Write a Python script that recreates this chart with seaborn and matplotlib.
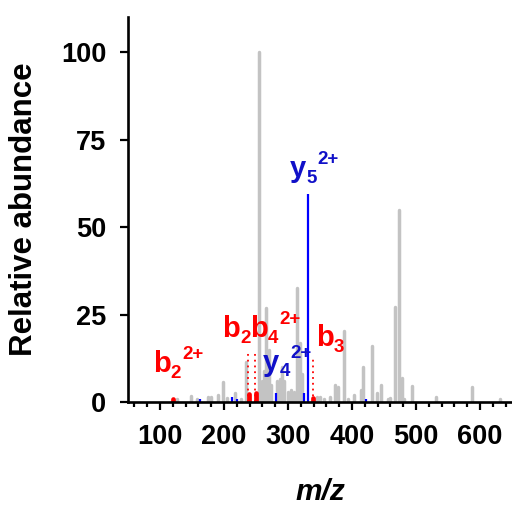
import matplotlib
matplotlib.use("Agg")
import matplotlib.pyplot as plt
from matplotlib.ticker import MultipleLocator
import seaborn as sns

# ---- data ----
gray_mz = [127, 148, 158, 175, 180, 191, 198.5, 204, 217.7, 227, 235, 255,
           259.5, 262, 266, 270, 273, 283, 287, 291, 294, 300, 305, 309,
           314, 319, 322, 345, 350, 356, 365, 373, 378.6, 387.5, 393, 403,
           413.5, 417.7, 431, 438.5, 445, 456, 460, 467, 474, 477.6, 481,
           494, 531, 587, 632]
gray_int = [1.0, 1.7, 0.8, 1.5, 1.5, 2.0, 5.6, 1.2, 2.5, 1.0, 11.5, 100,
            6, 9, 27, 15, 5, 6, 6.5, 10, 6, 3, 3.5, 3,
            32.6, 17, 8, 1.5, 1.5, 1.0, 1.5, 5, 4.4, 20.4, 1.0, 2,
            3.5, 10, 16, 2.5, 5, 1.0, 1.2, 27.2, 54.9, 7, 1.0,
            4.7, 1.5, 4.3, 0.8]

blue_mz = [162.5, 212.5, 220.8, 281, 325, 331, 422]
blue_int = [0.8, 1.5, 1.0, 2.5, 2.7, 59.4, 0.8]

red_mz = [120.3, 239.5, 249.5, 338.5]
red_int = [1.0, 2.2, 2.5, 1.3]

# dotted guide lines: (m/z, top)
guide_mz = [238, 249, 338.5]
guide_top = [14.4, 14.4, 13.0]

# ion labels: main letter, subscript, superscript, colour, anchor m/z, anchor intensity
ion_main = ["b", "b", "b", "b", "y", "y"]
ion_sub = ["2", "2", "4", "3", "4", "5"]
ion_sup = ["2+", "", "2+", "", "2+", "2+"]
ion_col = ["r", "r", "r", "r", "b", "b"]
ion_x = [89, 197, 240.6, 343.75, 261, 303]
ion_y = [8.6, 18.6, 18.6, 16.0, 8.9, 64.3]

xticks = [100, 200, 300, 400, 500, 600]
yticks = [0, 25, 50, 75, 100]

# ---- style ----
sns.set_theme(style="ticks")
plt.rcParams["font.family"] = ["Liberation Sans", "DejaVu Sans"]
plt.rcParams["text.color"] = "black"
plt.rcParams["axes.labelcolor"] = "black"
plt.rcParams["xtick.color"] = "black"
plt.rcParams["ytick.color"] = "black"

GRAY = "#c3c3c3"
RED = "#ff0000"
BLUE = "#0000ff"
RED_T = "#ff0000"
BLUE_T = "#1010c8"

fig = plt.figure(figsize=(5.12, 5.07), dpi=100)
ax = fig.add_axes([0.25, 0.207, 0.75, 0.759])

ax.vlines(gray_mz, 0, gray_int, colors=GRAY, linewidth=2.5, capstyle="round", zorder=2)
ax.vlines(blue_mz, 0, blue_int, colors=BLUE, linewidth=1.6, zorder=3)
ax.vlines(red_mz, 0, red_int, colors=RED, linewidth=3.4, capstyle="round", zorder=3)
for gx, gt in zip(guide_mz, guide_top):
    ax.vlines(gx, 0, gt, colors=RED, linewidth=1.3, linestyles=(0, (1, 2.2)), zorder=3)

FS = 21
SFS = 13.5
W = {"b": 0.611, "y": 0.556}
for m, s, p, c, x, y in zip(ion_main, ion_sub, ion_sup, ion_col, ion_x, ion_y):
    col = RED_T if c == "r" else BLUE_T
    ax.annotate(m, (x, y), xycoords="data", ha="left", va="baseline",
                fontsize=FS, fontweight="bold", color=col, zorder=5)
    wm = W[m] * FS
    ax.annotate(s, (x, y), xycoords="data", xytext=(wm, -4.0), textcoords="offset points",
                ha="left", va="baseline", fontsize=SFS, fontweight="bold", color=col, zorder=5)
    if p:
        ws = 0.556 * SFS * len(s)
        ax.annotate(p, (x, y), xycoords="data", xytext=(wm + ws + 0.5, 9.5), textcoords="offset points",
                    ha="left", va="baseline", fontsize=SFS, fontweight="bold", color=col, zorder=5)

ax.set_xlim(50, 650)
ax.set_ylim(0, 110)
ax.set_xticks(xticks)
ax.set_xticklabels([str(v) for v in xticks])
ax.xaxis.set_minor_locator(MultipleLocator(20))
ax.set_yticks(yticks)
ax.set_yticklabels([str(v) for v in yticks])

sns.despine(ax=ax)
for sp in ["left", "bottom"]:
    ax.spines[sp].set_linewidth(1.9)
    ax.spines[sp].set_color("black")
    ax.spines[sp].set_zorder(6)

ax.tick_params(axis="both", which="major", length=6, width=1.6, color="black",
               labelcolor="black", labelsize=19.5, direction="out")
ax.tick_params(axis="x", which="major", pad=9.5)
ax.tick_params(axis="y", which="major", pad=9.5)
ax.tick_params(axis="x", which="minor", length=3.8, width=1.6, color="black", direction="out")
for lab in ax.get_xticklabels() + ax.get_yticklabels():
    lab.set_fontweight("bold")

ax.set_facecolor("white")
ax.grid(False)

fig.text(24 / 512, 1 - 209 / 507, "Relative abundance", rotation=90, ha="center", va="center",
         fontsize=22.5, fontweight="bold", color="black")
fig.text(320 / 512, 1 - 492 / 507, "m/z", ha="center", va="center",
         fontsize=21.5, fontweight="bold", fontstyle="italic", color="black")

fig.savefig("out.png", dpi=100, facecolor="white")
